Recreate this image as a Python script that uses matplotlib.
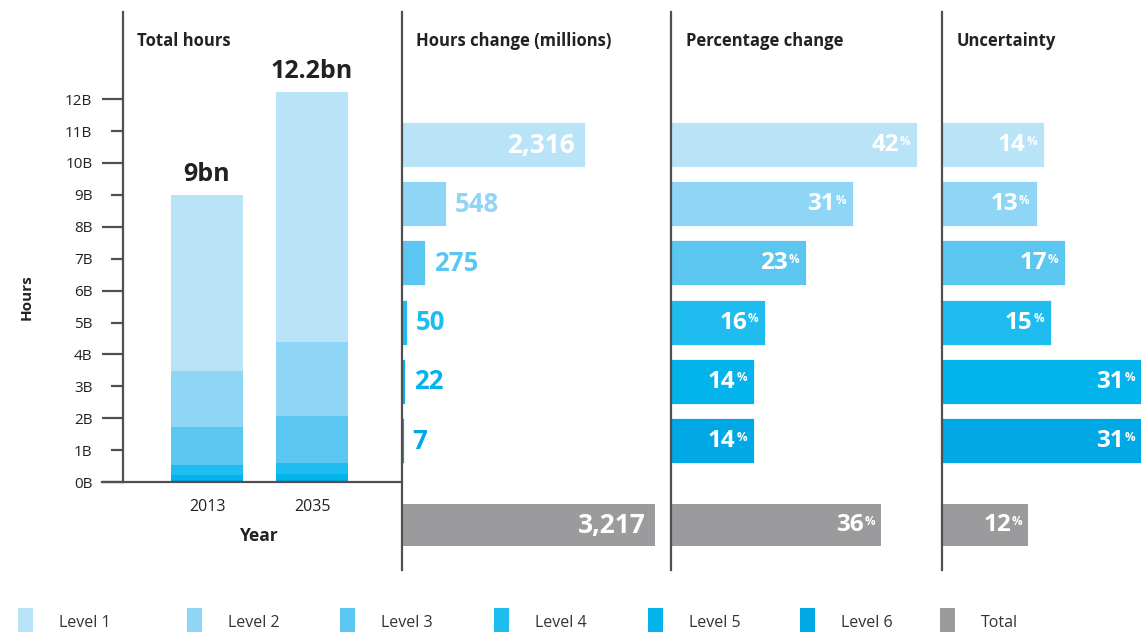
import matplotlib
matplotlib.use("Agg")
import matplotlib.pyplot as plt
from matplotlib.patches import Rectangle
from matplotlib.ticker import FixedLocator, FuncFormatter

plt.rcParams['font.family'] = ['Open Sans', 'DejaVu Sans']

# ---------------- data ----------------
years = ["2013", "2035"]
levels = ["Level 1", "Level 2", "Level 3", "Level 4", "Level 5", "Level 6"]
# hours in billions per level (stack order: level 6 at bottom)
hours_2013 = [5.51, 1.77, 1.20, 0.31, 0.16, 0.05]
hours_2035 = [7.83, 2.32, 1.47, 0.36, 0.18, 0.06]
year_totals = ["9bn", "12.2bn"]
hours_change = [2316, 548, 275, 50, 22, 7]
hours_change_total = 3217
pct_change = [42, 31, 23, 16, 14, 14]
pct_change_total = 36
uncertainty = [14, 13, 17, 15, 31, 31]
uncertainty_total = 12

colors = ["#b9e3f7", "#8fd5f5", "#5bc7f0", "#1fbdef", "#03b3ec", "#00a8e6"]
total_color = "#9b9b9e"
spine_color = "#505050"
text_dark = "#222222"

W, H = 1141, 632
fig = plt.figure(figsize=(W / 100, H / 100), dpi=100)
fig.patch.set_facecolor("white")


def rect(x0, y0, x1, y1):
    return [x0 / W, 1 - y1 / H, (x1 - x0) / W, (y1 - y0) / H]


PX = 0.72  # points per pixel

# ---------------- left panel: stacked bars ----------------
ax = fig.add_axes(rect(123, 12, 400, 482))
px_per_b = 31.9
ax.set_ylim(0, 470 / px_per_b)
ax.set_xlim(-0.8, 1.838)
for yi, vals in enumerate([hours_2013, hours_2035]):
    bottom = 0
    for lvl in range(5, -1, -1):
        ax.bar(yi, vals[lvl], bottom=bottom, width=0.686, color=colors[lvl],
               linewidth=0)
        bottom += vals[lvl]
    ax.text(yi, bottom + 0.25, year_totals[yi], ha="center", va="bottom",
            fontsize=18, fontweight="bold", color=text_dark)

for s in ["top", "right"]:
    ax.spines[s].set_visible(False)
for s in ["left", "bottom"]:
    ax.spines[s].set_color(spine_color)
    ax.spines[s].set_linewidth(1.6)
ax.yaxis.set_major_locator(FixedLocator(range(0, 13, 2)))
ax.yaxis.set_minor_locator(FixedLocator(range(1, 13, 2)))
fmt = FuncFormatter(lambda v, p: f"{int(round(v))}B")
ax.yaxis.set_major_formatter(fmt)
ax.yaxis.set_minor_formatter(fmt)
maj_len, min_len, pad = 15, 8.6, 7
ax.tick_params(axis="y", which="major", length=maj_len, width=1.6,
               color=spine_color, pad=pad, labelsize=11, labelcolor=text_dark)
ax.tick_params(axis="y", which="minor", length=min_len, width=1.6,
               color=spine_color, pad=pad + maj_len - min_len, labelsize=11,
               labelcolor=text_dark)
ax.set_xticks([0, 1])
ax.set_xticklabels(years)
ax.tick_params(axis="x", length=0, pad=12, labelsize=11.5, labelcolor=text_dark)
# extend baseline leftwards like the reference
ax.plot([-1.0, -0.8], [0, 0], color=spine_color, lw=1.6, clip_on=False)

fig.text(259 / W, 1 - 536 / H, "Year", ha="center", va="center",
         fontsize=12.5, fontweight="bold", color=text_dark)
fig.text(27 / W, 1 - 297 / H, "Hours", ha="center", va="center",
         rotation=90, fontsize=11, fontweight="bold", color=text_dark)

# ---------------- right panels ----------------
row_pos = [0, 1, 2, 3, 4, 5]
total_pos = 6.42
row_px = 59.2
ylim_top = -(145 - 12) / row_px
ylim_bot = (570 - 145) / row_px
bar_h = 0.71


def panel(x0, x1, xmax, vals, total, cols, kind):
    a = fig.add_axes(rect(x0, 12, x1, 570))
    a.set_xlim(0, xmax)
    a.set_ylim(ylim_bot, ylim_top)
    a.barh(row_pos, vals, height=bar_h, color=cols, edgecolor=cols,
           linewidth=1.6)
    a.barh([total_pos], [total], height=bar_h, color=total_color, linewidth=0)
    a.set_xticks([])
    a.set_yticks([])
    for s in ["top", "right", "bottom"]:
        a.spines[s].set_visible(False)
    a.spines["left"].set_color(spine_color)
    a.spines["left"].set_linewidth(1.6)
    a.patch.set_alpha(0)
    allv = list(vals) + [total]
    allp = row_pos + [total_pos]
    allc = list(cols) + [total_color]
    for v, p, c in zip(allv, allp, allc):
        xv = min(v, xmax)
        if kind == "num":
            label = f"{v:,}"
            inside = v > 1000
            if inside:
                a.annotate(label, (xv, p), xytext=(-9 * PX, 0),
                           textcoords="offset points", ha="right",
                           va="center", fontsize=19, fontweight="bold",
                           color="white")
            else:
                a.annotate(label, (xv, p), xytext=(10 * PX, 0),
                           textcoords="offset points", ha="left",
                           va="center", fontsize=18.5, fontweight="bold",
                           color=c)
        else:
            a.annotate("%", (xv, p), xytext=(-6 * PX, 4 * PX),
                       textcoords="offset points", ha="right",
                       va="center", fontsize=8.5, fontweight="bold",
                       color="white")
            a.annotate(f"{v}", (xv, p), xytext=(-17.5 * PX, 0),
                       textcoords="offset points", ha="right",
                       va="center", fontsize=17.5, fontweight="bold",
                       color="white")
    return a


panel(402, 670, 268 / 0.0786, hours_change, hours_change_total, colors, "num")
panel(671, 940, 269 / 5.84, pct_change, pct_change_total, colors, "pct")
panel(942, 1141, 199 / 7.2, uncertainty, uncertainty_total, colors, "pct")

# panel titles
for x, t in [(137, "Total hours"), (416, "Hours change (millions)"),
             (686, "Percentage change"), (957, "Uncertainty")]:
    fig.text(x / W, 1 - 41 / H, t, ha="left", va="center", fontsize=12,
             fontweight="bold", color=text_dark)

# ---------------- legend ----------------
leg_items = levels + ["Total"]
leg_cols = colors + [total_color]
leg_x = [18, 187, 340, 494, 648, 800, 940]
for x, lab, c in zip(leg_x, leg_items, leg_cols):
    fig.patches.append(Rectangle((x / W, 0), 15 / W, 24 / H,
                                 transform=fig.transFigure, color=c,
                                 linewidth=0))
    fig.text((x + 41) / W, 1 - 623 / H, lab, ha="left", va="center",
             fontsize=11.5, color="#333333",
             family=["Liberation Sans Narrow", "Open Sans", "DejaVu Sans"])

fig.savefig("out.png", dpi=100, facecolor="white")
